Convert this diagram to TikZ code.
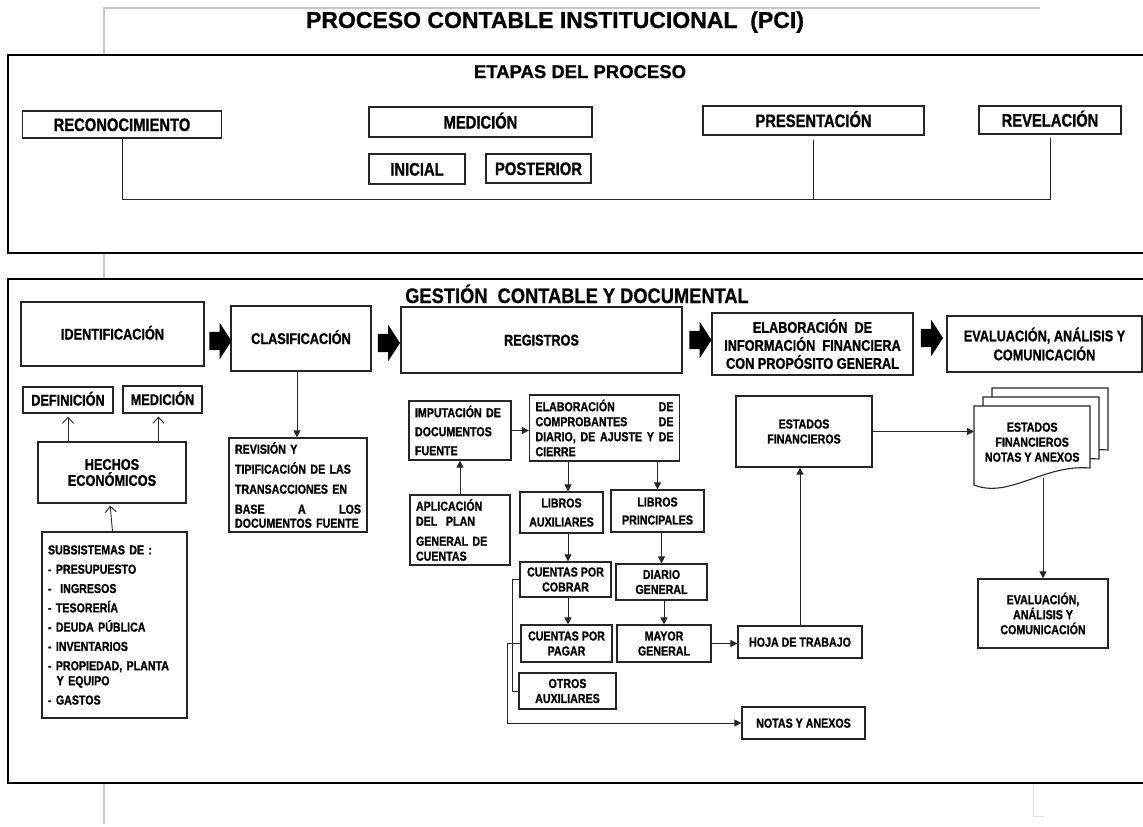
\documentclass[tikz,border=0pt]{standalone}
\usepackage{fontspec}
\setmainfont{Liberation Sans}[BoldFeatures={FakeBold=0.8}]
\newfontfamily\narrowfont{Liberation Sans}[FakeStretch=0.82, BoldFeatures={FakeBold=1}]
\usetikzlibrary{arrows.meta,shapes.arrows,calc}

\begin{document}
\begin{tikzpicture}[x=1pt,y=-1pt,
  frame/.style={line width=2.4pt, draw=black, line join=miter},
  margin/.style={line width=1.2pt, draw=black!22},
  box/.style={draw=black!85, line width=1.2pt, fill=white, inner sep=0pt, align=center},
  lbox/.style={box, align=left, inner xsep=6pt},
  big/.style={font=\narrowfont\bfseries\fontsize{18}{21}\selectfont},
  mid/.style={font=\narrowfont\bfseries\fontsize{15.5}{18}\selectfont},
  small/.style={font=\narrowfont\bfseries\fontsize{13}{15}\selectfont},
  list/.style={font=\narrowfont\bfseries\fontsize{13}{19.3}\selectfont},
  oneline/.style={text height=#1, text depth=0pt},
  link/.style={line width=0.9pt, draw=black!85},
  arr/.style={link, -{Triangle[length=7pt,width=7pt]}},
  openarr/.style={link, -{Straight Barb[length=6pt,width=11pt]}},
  blockarrow/.style={single arrow, fill=black, draw=none, inner xsep=0pt, inner ysep=9pt,
    minimum height=22pt, minimum width=36pt, single arrow head extend=9pt,
    single arrow tip angle=114},
  doc/.style={draw=black!85, line width=1.1pt, fill=white},
]
\useasboundingbox (0,0) rectangle (1143,827);

% page margin marks
\draw[margin] (104,55) -- (104,8) -- (1040,8);
\draw[margin] (104,253) -- (104,279);
\draw[margin] (104,783) -- (104,824);
\draw[draw=black!12, line width=1pt] (1033,783) -- (1033,816) -- (1044,816);

% outer frames
\draw[frame] (1150,55) -- (8,55) -- (8,253) -- (1150,253);
\draw[frame] (1150,279) -- (8,279) -- (8,783) -- (1150,783);

% titles
\node[font=\bfseries\fontsize{23}{26}\selectfont, inner sep=0pt, anchor=base] (title) at (555,28) {PROCESO CONTABLE INSTITUCIONAL\ \ (PCI)};
\node[font=\bfseries\fontsize{18.5}{21}\selectfont, inner sep=0pt, anchor=base] (etapas) at (580,78) {ETAPAS DEL PROCESO};
\node[font=\bfseries\fontsize{21}{24}\selectfont, inner sep=0pt, anchor=base] (gestion) at (577,303) {\scalebox{0.87}[1]{GESTIÓN\ \ CONTABLE Y DOCUMENTAL}};

% stages of the process
\node[box, big, oneline=13pt, minimum width=199pt, minimum height=27pt] (recon) at (122,124.5) {RECONOCIMIENTO};
\node[box, big, oneline=13pt, minimum width=223pt, minimum height=30pt] (medi) at (480.5,122) {MEDICIÓN};
\node[box, big, oneline=13pt, minimum width=96pt, minimum height=30pt] (inic) at (417,169) {INICIAL};
\node[box, big, oneline=13pt, minimum width=105pt, minimum height=29pt] (post) at (538.5,168.5) {POSTERIOR};
\node[box, big, oneline=13pt, minimum width=221pt, minimum height=29pt] (pres) at (813.5,120.5) {PRESENTACIÓN};
\node[box, big, oneline=13pt, minimum width=142pt, minimum height=28pt] (revel) at (1050,120) {REVELACIÓN};

\coordinate (lvl) at (0,199);
\draw[link, shorten >=3pt] (recon.south) -- (recon.south |- lvl) -- (lvl -| revel.south) -- (revel.south);
\draw[link, shorten <=4pt] (pres.south) -- (pres.south |- lvl);

% main phases
\node[box, mid, oneline=11pt, minimum width=183pt, minimum height=64pt] (ident) at (112.5,334) {IDENTIFICACIÓN};
\node[box, mid, oneline=11pt, minimum width=140pt, minimum height=65pt] (clasif) at (301,338.5) {CLASIFICACIÓN};
\node[box, mid, oneline=11pt, minimum width=281pt, minimum height=66pt] (regis) at (541.5,340) {REGISTROS};
\node[box, mid, minimum width=201pt, minimum height=62pt] (elab) at (812.5,344) {ELABORACIÓN\ \ DE\\INFORMACIÓN\ \ FINANCIERA\\CON PROPÓSITO GENERAL};
\node[box, mid, minimum width=195pt, minimum height=56pt, font=\narrowfont\bfseries\fontsize{15.5}{19}\selectfont] (evalh) at (1044.5,344) {EVALUACIÓN,\ ANÁLISIS Y\\COMUNICACIÓN};

\node[blockarrow] (ba1) at (217.5,341) {};
\node[blockarrow] (ba2) at (386,343) {};
\node[blockarrow] (ba3) at (697.5,340) {};
\node[blockarrow] (ba4) at (929,338) {};

% identification column
\node[box, mid, oneline=11pt, minimum width=90pt, minimum height=26pt] (defi) at (68,400) {DEFINICIÓN};
\node[box, mid, oneline=11pt, minimum width=79pt, minimum height=27pt] (medl) at (162.5,399.5) {MEDICIÓN};
\node[box, mid, minimum width=148pt, minimum height=61pt, font=\narrowfont\bfseries\fontsize{15.5}{16}\selectfont] (hechos) at (112,472.5) {HECHOS\\ECONÓMICOS};
\node[lbox, list, text width=133pt, minimum height=186pt] (subs) at (114.5,625) {SUBSISTEMAS DE :\\- PRESUPUESTO\\-\ \ INGRESOS\\- TESORERÍA\\- DEUDA PÚBLICA\\- INVENTARIOS\\- PROPIEDAD, PLANTA\\[-4.3pt]\ \ Y EQUIPO\\- GASTOS};

\draw[openarr, shorten >=3pt] (hechos.north -| defi.south) -- (defi.south);
\draw[openarr, shorten >=3pt] ([xshift=-4pt]hechos.north -| medl.south) -- ([xshift=-4pt]medl.south);
\draw[openarr, shorten >=2pt] ([xshift=-2pt]subs.north) -- ([xshift=-2pt]hechos.south);

% classification column
\node[lbox, small, text width=126pt, minimum height=94pt, font=\narrowfont\bfseries\fontsize{13}{20}\selectfont] (revis) at (298,485) {REVISIÓN Y\\TIPIFICACIÓN DE LAS\\TRANSACCIONES EN\\BASE\hfill A\hfill LOS\\[-6pt]DOCUMENTOS FUENTE};
\draw[arr] ([xshift=-4pt]clasif.south) -- ([xshift=-4pt]clasif.south |- revis.north);

% registers column
\node[lbox, text width=90pt, minimum height=59pt, font=\narrowfont\bfseries\fontsize{13}{19}\selectfont] (imput) at (460,430.5) {IMPUTACIÓN DE\\DOCUMENTOS\\FUENTE};
\node[lbox, small, text width=138pt, minimum height=66pt] (compr) at (604.5,428) {ELABORACIÓN\hfill DE\\COMPROBANTES\hfill DE\\DIARIO,\hfill DE\hfill AJUSTE\hfill Y\hfill DE\\CIERRE};
\node[lbox, small, text width=88pt, minimum height=70pt] (aplic) at (460,530) {APLICACIÓN\\DEL\ \ PLAN\\[5pt]GENERAL DE\\CUENTAS};
\node[box, minimum width=83pt, minimum height=41pt, font=\narrowfont\bfseries\fontsize{13}{19}\selectfont] (libaux) at (561.5,512.5) {LIBROS\\AUXILIARES};
\node[box, minimum width=93pt, minimum height=42pt, font=\narrowfont\bfseries\fontsize{13}{18}\selectfont] (libpri) at (657.5,511) {LIBROS\\PRINCIPALES};
\node[box, small, minimum width=91pt, minimum height=35pt] (cxc) at (565.5,579.5) {CUENTAS POR\\COBRAR};
\node[box, small, minimum width=91pt, minimum height=36pt] (diario) at (661.5,582) {DIARIO\\GENERAL};
\node[box, small, minimum width=91pt, minimum height=37pt] (cxp) at (566.5,643.5) {CUENTAS POR\\PAGAR};
\node[box, small, minimum width=94pt, minimum height=37pt] (mayor) at (664,643.5) {MAYOR\\GENERAL};
\node[box, small, minimum width=97pt, minimum height=36pt] (otros) at (567.5,691) {OTROS\\AUXILIARES};
\node[box, small, oneline=9.3pt, minimum width=124pt, minimum height=32pt] (hoja) at (800,642) {HOJA DE TRABAJO};
\node[box, small, oneline=9.3pt, minimum width=123pt, minimum height=32pt] (notas) at (803.5,723) {NOTAS Y ANEXOS};

\coordinate (colA) at (568,0);
\draw[arr] (imput.east) -- (imput.east -| compr.west);
\draw[arr] (aplic.north) -- (imput.south);
\draw[arr] (compr.south -| colA) -- (libaux.north -| colA);
\draw[arr] (compr.south -| libpri.north) -- (libpri.north);
\draw[arr] (libaux.south -| colA) -- (cxc.north -| colA);
\draw[arr] (libpri.south -| diario.north) -- (diario.north);
\draw[arr] (cxc.south -| colA) -- (cxp.north -| colA);
\draw[arr] (diario.south -| mayor.north) -- (mayor.north);
\draw[arr] (mayor.east) -- (mayor.east -| hoja.west);

% bracket grouping the auxiliary ledgers
\draw[link] (cxc.west) -- ++(-7,0) |- (otros.west);
\draw[link] (cxp.west) -- ++(-7,0);
\coordinate (brk) at ($(cxp.west)+(-13,0)$);
\draw[link] (brk) -- ++(6,0);
\draw[arr] (brk) |- (notas.west);

% financial information column
\node[box, small, minimum width=136pt, minimum height=71pt] (estados) at (804,431.5) {ESTADOS\\FINANCIEROS};
\draw[arr] (hoja.north) -- (hoja.north |- estados.south);

% stack of documents
\foreach \dx/\dy in {18/-18, 9/-9, 0/0}{
  \draw[doc] ($(974,406)+(\dx,\dy)$) -- ++(116,0) -- ++(0,62)
    .. controls ++(-46,-4) and ++(35,14) .. ++(-116,17) -- cycle;
}
\node[small, align=center, inner sep=0pt, minimum width=116pt, minimum height=72pt, anchor=north west] (docs) at (974,406) {ESTADOS\\FINANCIEROS\\NOTAS Y ANEXOS};
\draw[arr] (estados.east) -- (estados.east -| docs.west);

\node[box, small, minimum width=130pt, minimum height=69pt] (evalb) at (1043,613.5) {EVALUACIÓN,\\ANÁLISIS Y\\COMUNICACIÓN};
\draw[arr] (evalb.north |- docs.south) -- (evalb.north);

\end{tikzpicture}
\end{document}
